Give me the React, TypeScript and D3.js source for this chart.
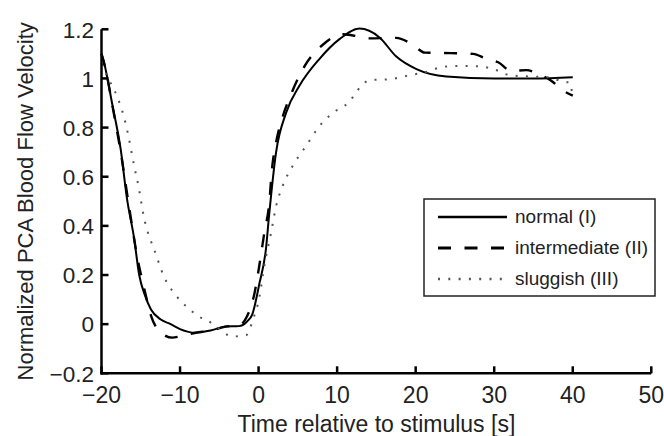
import React from "react";
import * as d3 from "d3";

// ---- data ----
const normalT = [-20, -19.8, -18.6, -17.55, -16.75, -15.85, -15.2, -14.5, -13.7, -12.5, -11.2, -10, -8, -6, -4.2, -2.5, -1.5, -0.8, 0.1, 0.95, 1.3, 2.23, 3.5, 5.2, 7.76, 10.3, 12.86, 15.4, 17.5, 20.1, 23.9, 30, 35, 40];
const normalV = [1.1, 1.08, 0.89, 0.71, 0.51, 0.35, 0.2, 0.12, 0.06, 0.02, 0.0, -0.02, -0.035, -0.025, -0.01, -0.008, 0.01, 0.04, 0.165, 0.31, 0.43, 0.7, 0.86, 0.97, 1.08, 1.16, 1.203, 1.167, 1.09, 1.038, 1.008, 1.0, 1.0, 1.005];

const interT = [-20, -19.5, -18.5, -17.5, -16.5, -15.4, -14.6, -13.7, -12.2, -11, -9.5, -8, -6, -4.2, -2.5, -1.5, -0.54, 0.1, 0.74, 1.38, 1.67, 2.23, 3.0, 4.27, 5.84, 8.18, 10.7, 12, 14, 17.5, 19.5, 21.2, 24.5, 27.3, 29, 30.5, 32.2, 34.1, 35.6, 37.3, 38.6, 40];
const interV = [1.1, 1.04, 0.87, 0.69, 0.48, 0.265, 0.15, 0.035, -0.04, -0.055, -0.045, -0.035, -0.025, -0.01, -0.005, 0.03, 0.123, 0.24, 0.374, 0.5, 0.62, 0.74, 0.837, 0.946, 1.049, 1.137, 1.18, 1.175, 1.163, 1.165, 1.14, 1.105, 1.103, 1.1, 1.08, 1.066, 1.03, 1.034, 1.018, 0.99, 0.954, 0.93];

const slugT = [-20, -19.3, -18.06, -17.2, -16.6, -15.85, -15.3, -14.6, -13.9, -13.4, -12.0, -10.5, -8.83, -7.55, -6.5, -5.4, -3.3, -1.6, -0.7, 0.1, 0.74, 1.6, 2.23, 3.07, 4.35, 6.06, 7.76, 9.7, 11.4, 13.1, 14.1, 16.7, 19.2, 21.8, 23.1, 25.2, 28.2, 29.9, 32, 34.55, 37.1, 38.8, 39.6, 40];
const slugV = [1.06, 1.01, 0.93, 0.85, 0.77, 0.645, 0.563, 0.435, 0.354, 0.313, 0.19, 0.116, 0.062, 0.03, 0.015, -0.01, -0.05, -0.045, 0.02, 0.11, 0.24, 0.374, 0.48, 0.563, 0.645, 0.726, 0.807, 0.865, 0.9, 0.97, 0.993, 0.997, 1.013, 1.03, 1.045, 1.051, 1.049, 1.038, 1.013, 1.008, 1.004, 0.986, 0.984, 0.92];

const seriesNames = ["normal (I)", "intermediate (II)", "sluggish (III)"];

const xTickValues = [-20, -10, 0, 10, 20, 30, 40, 50];
const xTickLabels = ["\u221220", "\u221210", "0", "10", "20", "30", "40", "50"];
const yTickValues = [-0.2, 0, 0.2, 0.4, 0.6, 0.8, 1, 1.2];
const yTickLabels = ["\u22120.2", "0", "0.2", "0.4", "0.6", "0.8", "1", "1.2"];

const xLabel = "Time relative to stimulus [s]";
const yLabel = "Normalized PCA Blood Flow Velocity";

// ---- layout ----
const W = 664, H = 436;
const X0 = 101.5, X1 = 651.3;
const Y0 = 373.3, Y1 = 29.3;
const FONT = "'Liberation Sans', Arial, Helvetica, sans-serif";
const TXT = "#222";

const styles = [
  { stroke: "#000", width: 2, dash: null as string | null },
  { stroke: "#000", width: 2.4, dash: "13 13.5" },
  { stroke: "#555", width: 2, dash: "2 8.3" },
];

export default function App() {
  const x = d3.scaleLinear().domain([-20, 50]).range([X0, X1]);
  const y = d3.scaleLinear().domain([-0.2, 1.2]).range([Y0, Y1]);
  const line = d3
    .line<[number, number]>()
    .x((d) => x(d[0]))
    .y((d) => y(d[1]))
    .curve(d3.curveMonotoneX);

  const series = [
    d3.zip(normalT, normalV) as [number, number][],
    d3.zip(interT, interV) as [number, number][],
    d3.zip(slugT, slugV) as [number, number][],
  ];

  const legX = 424, legY = 199, legW = 231, legH = 97;
  const rowY = [217, 248, 279];

  return (
    <svg
      width={W}
      height={H}
      style={{ position: "absolute", left: 0, top: 0, background: "#fff" }}
      fontFamily={FONT}
    >
      <rect x={0} y={0} width={W} height={H} fill="#fff" />
      {series.map((s, i) => (
        <path
          key={i}
          d={line(s) || ""}
          fill="none"
          stroke={styles[i].stroke}
          strokeWidth={styles[i].width}
          strokeDasharray={styles[i].dash || undefined}
          strokeLinejoin="round"
        />
      ))}
      <line x1={X0} x2={X0} y1={Y1} y2={Y0 + 1.2} stroke="#000" strokeWidth={2.5} />
      <line x1={X0 - 1.2} x2={X1} y1={Y0} y2={Y0} stroke="#000" strokeWidth={2.5} />
      {xTickValues.map((v, i) => (
        <g key={"xt" + i}>
          <line x1={x(v)} x2={x(v)} y1={Y0} y2={Y0 - 7} stroke="#000" strokeWidth={2.5} />
          <text x={x(v)} y={403} textAnchor="middle" fontSize={23} fill={TXT}>
            {xTickLabels[i]}
          </text>
        </g>
      ))}
      {yTickValues.map((v, i) => (
        <g key={"yt" + i}>
          <line x1={X0} x2={X0 + 7} y1={y(v)} y2={y(v)} stroke="#000" strokeWidth={2.5} />
          <text x={94} y={y(v) + 8.2} textAnchor="end" fontSize={22.5} fill={TXT}>
            {yTickLabels[i]}
          </text>
        </g>
      ))}
      <text x={(X0 + X1) / 2} y={431.5} textAnchor="middle" fontSize={23} fill={TXT}>
        {xLabel}
      </text>
      <text
        transform={`translate(33, ${(Y0 + Y1) / 2}) rotate(-90)`}
        textAnchor="middle"
        fontSize={22}
        fill={TXT}
      >
        {yLabel}
      </text>
      <rect x={legX} y={legY} width={legW} height={legH} fill="#fff" stroke="#222" strokeWidth={1.5} />
      {seriesNames.map((name, i) => (
        <g key={"lg" + i}>
          <line
            x1={438}
            x2={507}
            y1={rowY[i]}
            y2={rowY[i]}
            stroke={styles[i].stroke}
            strokeWidth={i === 0 ? 2.6 : styles[i].width + 0.4}
            strokeDasharray={styles[i].dash || undefined}
          />
          <text x={515} y={rowY[i] + 6.2} fontSize={19} fill={TXT}>
            {name}
          </text>
        </g>
      ))}
    </svg>
  );
}
